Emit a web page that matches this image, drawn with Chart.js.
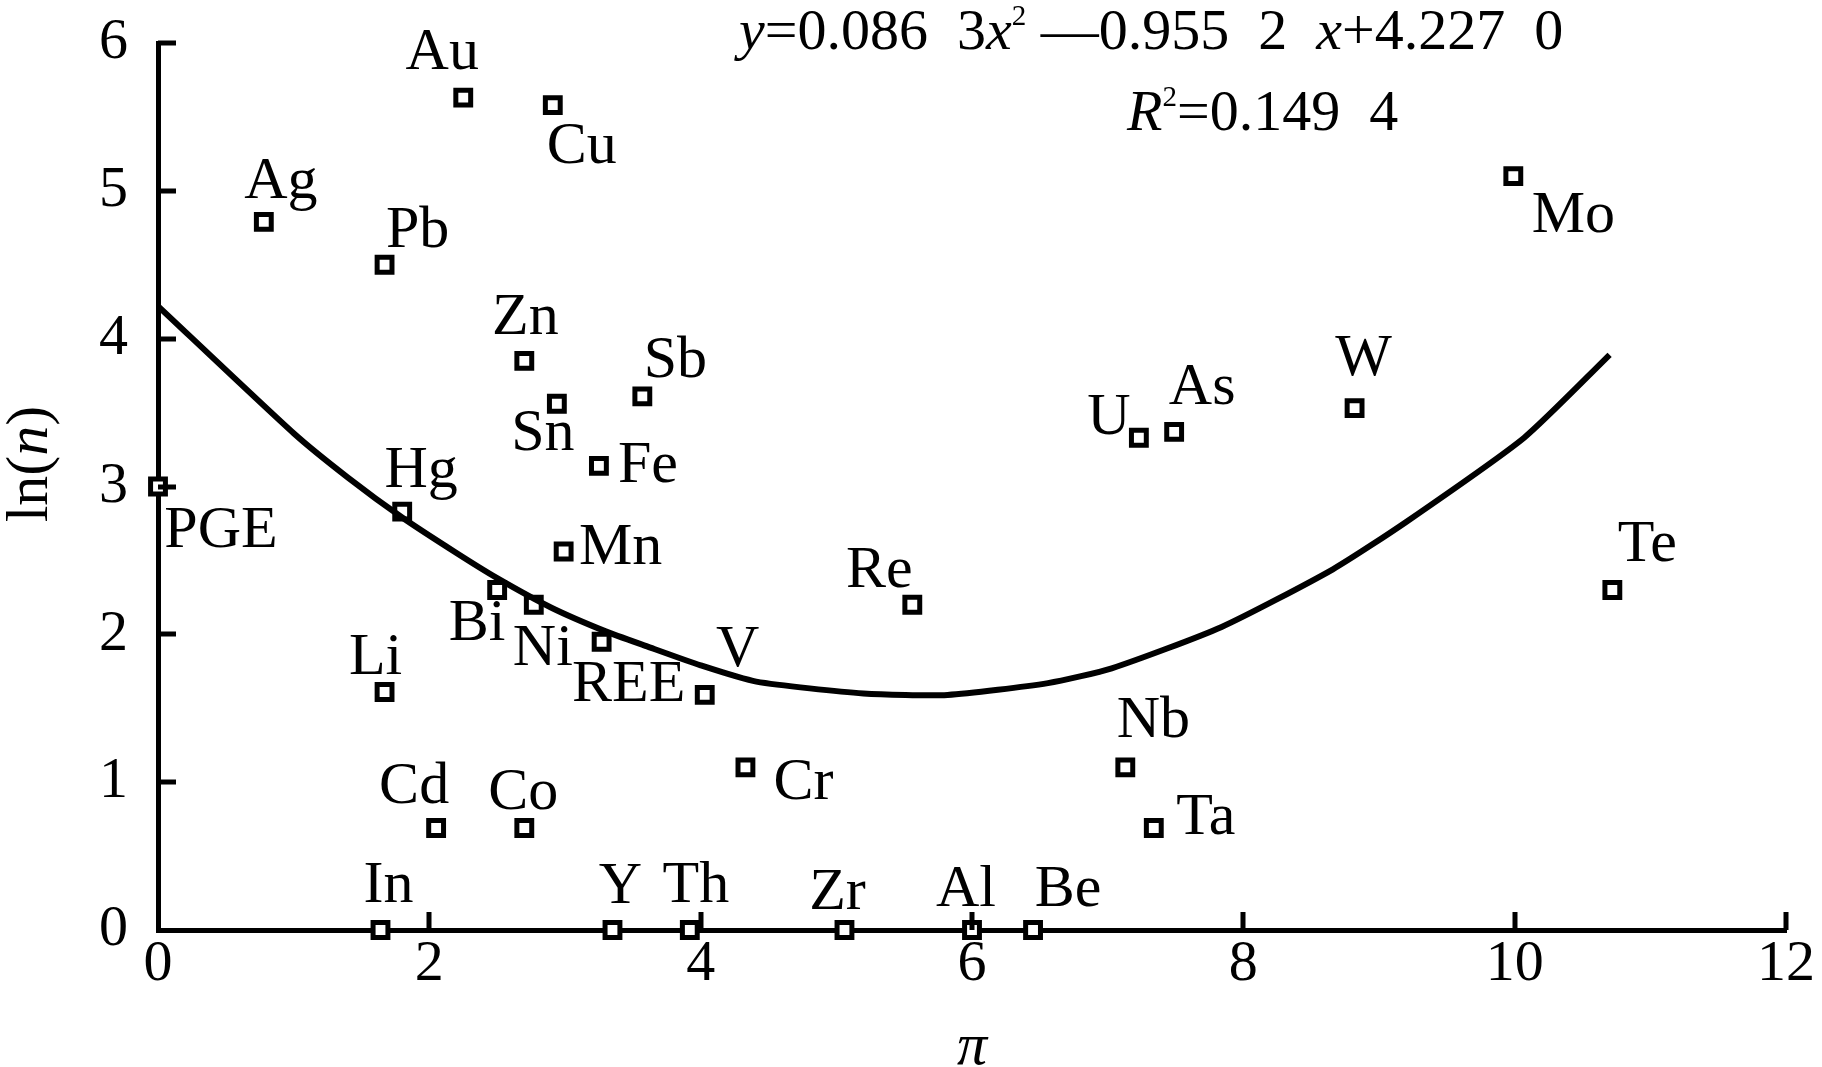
<!DOCTYPE html>
<html>
<head>
<meta charset="utf-8">
<script src="https://cdn.jsdelivr.net/npm/chart.js@4/dist/chart.umd.min.js"></script>
<style>
  html, body { margin: 0; padding: 0; background: #fff; }
  #wrap { width: 1822px; height: 1067px; position: relative; }
</style>
</head>
<body>
<div id="wrap"><canvas id="chart"></canvas></div>
<script>
// elements and their (pi, ln(n)) values
const ELEMENTS = ['Au', 'Cu', 'Ag', 'Pb', 'Mo', 'Zn', 'Sb', 'Sn', 'Fe', 'W', 'U', 'As', 'PGE', 'Hg', 'Mn',
  'Bi', 'Ni', 'Re', 'Te', 'REE', 'Li', 'V', 'Cr', 'Nb', 'Cd', 'Co', 'Ta', 'In', 'Y', 'Th', 'Zr', 'Al', 'Be'];
const PI_VALUES = [2.25, 2.91, 0.78, 1.67, 9.99, 2.70, 3.57, 2.94, 3.25, 8.82, 7.23, 7.49, 0.0, 1.80, 2.99,
  2.50, 2.77, 5.56, 10.72, 3.27, 1.67, 4.03, 4.33, 7.13, 2.05, 2.70, 7.34, 1.64, 3.35, 3.92, 5.06, 6.00, 6.45];
const LN_VALUES = [5.63, 5.58, 4.79, 4.50, 5.10, 3.85, 3.61, 3.56, 3.14, 3.53, 3.33, 3.37, 3.00, 2.83, 2.56,
  2.30, 2.20, 2.20, 2.30, 1.95, 1.61, 1.59, 1.10, 1.10, 0.69, 0.69, 0.69, 0.0, 0.0, 0.0, 0.0, 0.0, 0.0];

// fitted curve as drawn
const FIT_X = [0, 1.0, 1.4, 1.8, 2.2, 2.5, 2.9, 3.3, 3.6, 4.0, 4.41, 5.2, 5.82, 6.56, 7.03, 7.84, 8.66, 9.2, 10.07, 10.7];
const FIT_Y = [4.22, 3.36, 3.06, 2.79, 2.55, 2.38, 2.18, 2.02, 1.92, 1.79, 1.68, 1.60, 1.59, 1.67, 1.77, 2.05, 2.44, 2.76, 3.33, 3.89];

const X_TICKS = [0, 2, 4, 6, 8, 10, 12];
const Y_TICKS = [0, 1, 2, 3, 4, 5, 6];

// label offsets from marker centre, px
const LABEL_OFFSETS = {
  Au: [-21, -44], Cu: [29, 42], Ag: [17, -40], Pb: [33, -34], Mo: [60, 40], Zn: [1, -43],
  Sb: [33, -35], Sn: [-14, 31], Fe: [49, 0], W: [9, -49], U: [-30, -19], As: [28, -44],
  PGE: [63, 45], Hg: [19, -40], Mn: [57, -3], Bi: [-20, 34], Ni: [9, 44], Re: [-33, -34],
  Te: [35, -45], REE: [27, 44], Li: [-9, -34], V: [33, -45], Cr: [58, 16], Nb: [28, -46],
  Cd: [-22, -41], Co: [-1, -35], Ta: [52, -10], In: [8, -44], Y: [8, -43], Th: [6, -44],
  Zr: [-7, -37], Al: [-6, -40], Be: [35, -40],
};

const SERIF = '"Liberation Serif", "Times New Roman", Times, serif';
const LABEL_SIZE = 60;
const TICK_SIZE = 58;

function drawRuns(ctx, runs, x, y, align, size) {
  // runs: [text, italic, sup]
  const fontFor = (r) => `${r[1] ? 'italic ' : ''}${r[2] ? size * 0.5 : size}px ${SERIF}`;
  let total = 0;
  runs.forEach((r) => { ctx.font = fontFor(r); total += ctx.measureText(r[0]).width; });
  let cx = align === 'center' ? x - total / 2 : x;
  runs.forEach((r) => {
    ctx.font = fontFor(r);
    ctx.fillText(r[0], cx, r[2] ? y - size * 0.42 : y);
    cx += ctx.measureText(r[0]).width;
  });
}

const annotations = {
  id: 'annotations',
  afterDatasetsDraw(chart) {
    const { ctx, scales: { x, y } } = chart;
    ctx.save();
    ctx.fillStyle = '#000';
    ctx.strokeStyle = '#000';

    // inward tick marks
    ctx.lineWidth = 5;
    ctx.beginPath();
    Y_TICKS.slice(1).forEach((v) => {
      const py = Math.round(y.getPixelForValue(v));
      ctx.moveTo(x.left, py);
      ctx.lineTo(x.left + 18, py);
    });
    X_TICKS.slice(1).forEach((v) => {
      const px = Math.round(x.getPixelForValue(v));
      ctx.moveTo(px, y.bottom);
      ctx.lineTo(px, y.bottom - 18);
    });
    ctx.stroke();

    // element labels
    ctx.font = `${LABEL_SIZE}px ${SERIF}`;
    ctx.textAlign = 'center';
    ctx.textBaseline = 'middle';
    const meta = chart.getDatasetMeta(1);
    ELEMENTS.forEach((name, i) => {
      const pt = meta.data[i];
      const off = LABEL_OFFSETS[name] || [0, -40];
      ctx.fillText(name, pt.x + off[0], pt.y + off[1]);
    });

    // equation and R2
    ctx.textAlign = 'left';
    ctx.textBaseline = 'alphabetic';
    drawRuns(ctx, [['y', true], ['=0.086  3', false], ['x', true], ['2', false, true],
      [' \u2014', false], ['0.955  2  ', false], ['x', true], ['+4.227  0', false]], 739, 49, 'left', 58);
    drawRuns(ctx, [['R', true], ['2', false, true], ['=0.149  4', false]], 1127, 130, 'left', 58);

    // axis titles
    ctx.save();
    ctx.translate(47, 464);
    ctx.rotate(-Math.PI / 2);
    drawRuns(ctx, [['ln(', false], ['n', true], [')', false]], 0, 0, 'center', LABEL_SIZE);
    ctx.restore();
    drawRuns(ctx, [['\u03c0', true]], x.getPixelForValue(6), 1064, 'center', LABEL_SIZE);
    ctx.restore();
  },
};

new Chart(document.getElementById('chart'), {
  type: 'scatter',
  data: {
    datasets: [
      {
        type: 'line',
        data: FIT_X.map((v, i) => ({ x: v, y: FIT_Y[i] })),
        borderColor: '#000',
        borderWidth: 6,
        pointRadius: 0,
        tension: 0.2,
        fill: false,
      },
      {
        data: PI_VALUES.map((v, i) => ({ x: v, y: LN_VALUES[i] })),
        pointStyle: 'rect',
        pointRadius: 10.5,
        pointBorderWidth: 5,
        pointBorderColor: '#000',
        pointBackgroundColor: '#fff',
        clip: false,
      },
    ],
  },
  options: {
    responsive: true,
    maintainAspectRatio: false,
    animation: false,
    events: [],
    layout: { padding: { left: 0, right: 36, top: 43, bottom: 0 } },
    plugins: { legend: { display: false }, tooltip: { enabled: false } },
    scales: {
      x: {
        type: 'linear',
        min: 0,
        max: 12,
        afterBuildTicks: (s) => { s.ticks = X_TICKS.map((v) => ({ value: v })); },
        afterFit: (s) => { s.height = 137; s.paddingLeft = 0; s.paddingRight = 0; },
        grid: { display: false },
        border: { display: true, color: '#000', width: 5 },
        ticks: { color: '#000', padding: -8, font: { family: SERIF, size: TICK_SIZE } },
      },
      y: {
        type: 'linear',
        min: 0,
        max: 6,
        afterBuildTicks: (s) => { s.ticks = Y_TICKS.map((v) => ({ value: v })); },
        afterFit: (s) => { s.width = 158; s.paddingTop = 0; s.paddingBottom = 0; },
        grid: { display: false },
        border: { display: true, color: '#000', width: 5 },
        ticks: { color: '#000', padding: 22, font: { family: SERIF, size: TICK_SIZE } },
      },
    },
  },
  plugins: [annotations],
});
</script>
</body>
</html>
